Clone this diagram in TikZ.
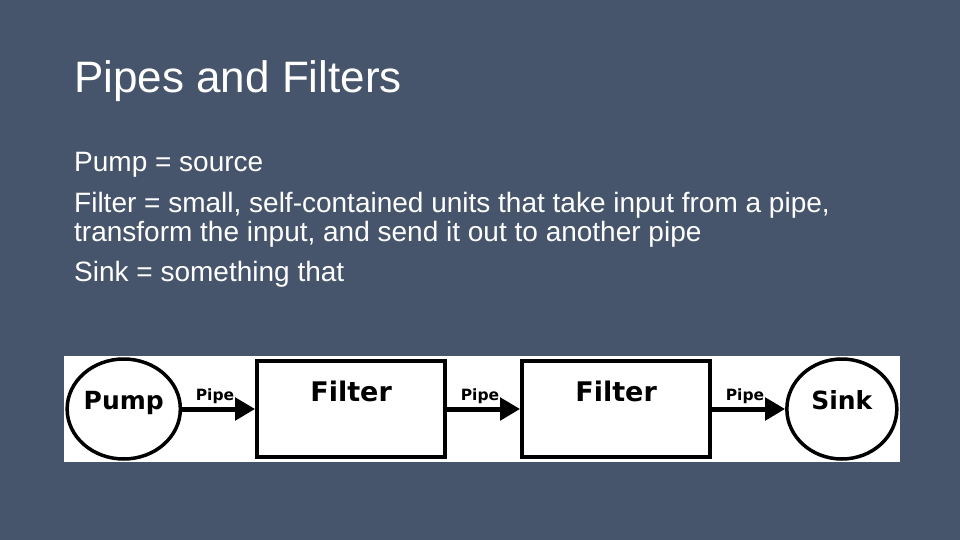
\documentclass[tikz,border=0pt]{standalone}
\usepackage{fontspec}
\setmainfont{Liberation Sans}
\newfontfamily\pipefont{DejaVu Sans}
\usetikzlibrary{matrix,arrows.meta,shapes.geometric}
\definecolor{slide}{RGB}{71,85,108}

\begin{document}
\begin{tikzpicture}[x=1pt,y=-1pt,
  slidetext/.style={anchor=base west,text=white,inner sep=0pt,font=\fontsize{28}{32}\selectfont},
  tank/.style={ellipse,draw,fill=white,line width=3.5pt,minimum width=110pt,minimum height=100pt,inner sep=0pt,text height=18pt,text depth=18pt,font=\pipefont\bfseries\fontsize{25}{30}\selectfont},
  filt/.style={rectangle,draw,fill=white,line width=4pt,minimum width=188pt,minimum height=96pt,inner sep=0pt,text height=20pt,text depth=36pt,font=\pipefont\bfseries\fontsize{27}{30}\selectfont},
  pipe/.style={line width=5pt,-{Triangle[length=20pt,width=22pt]}},
  lbl/.style={above,inner sep=3pt,font=\pipefont\bfseries\fontsize{15.5}{18}\selectfont}]
\fill[slide] (0,0) rectangle (960,540);
\node[slidetext,font=\fontsize{44}{50}\selectfont] (title) at (74,93) {Pipes and Filters};
\node[slidetext] (pump txt) at (74,171.5) {Pump = source};
\node[slidetext] (filter txt) at (74,212) {Filter = small, self-contained units that take input from a pipe,};
\node[slidetext] (filter txt2) at (74,241.5) {transform the input, and send it out to another pipe};
\node[slidetext] (sink txt) at (74,281.5) {Sink = something that};
\matrix (m) [matrix of nodes, nodes={anchor=center}, column sep=73pt, fill=white, inner sep=1.5pt] at (482,409)
{ |[tank]| Pump & |[filt]| Filter & |[filt]| Filter & |[tank]| Sink \\
};
\path[pipe]
(m-1-1) edge node[lbl,pos=0.45] {Pipe} (m-1-2)
(m-1-2) edge node[lbl,pos=0.45] {Pipe} (m-1-3)
(m-1-3) edge node[lbl,pos=0.45] {Pipe} (m-1-4)
;
\end{tikzpicture}
\end{document}
